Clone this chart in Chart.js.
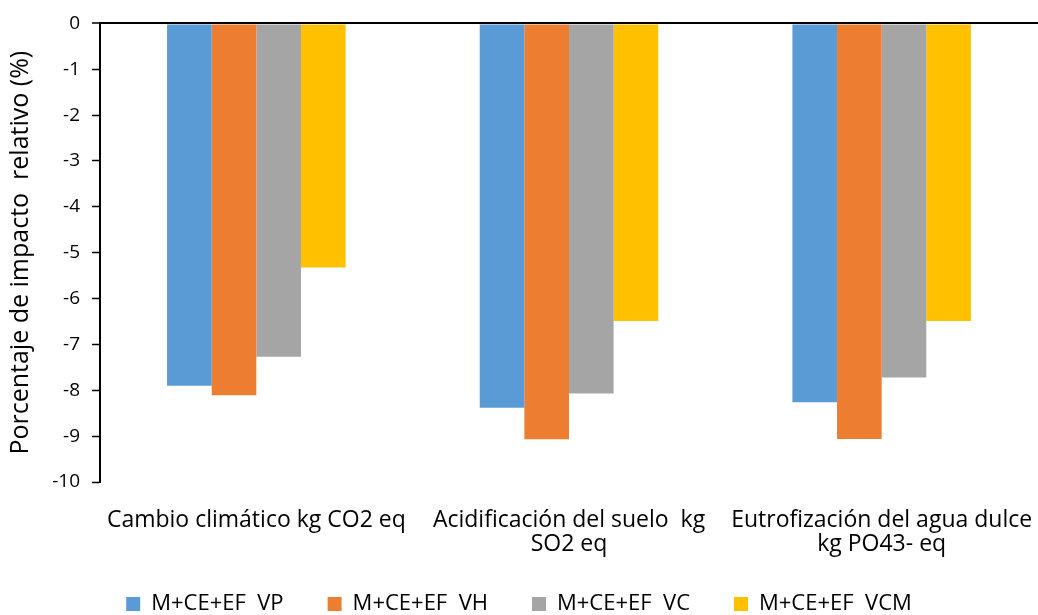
<!DOCTYPE html>
<html>
<head>
<meta charset="utf-8">
<script src="https://cdn.jsdelivr.net/npm/chart.js@4"></script>
<style>
  html, body { margin: 0; padding: 0; background: #ffffff; }
  #wrap { width: 1038px; height: 615px; position: relative; }
</style>
</head>
<body>
<div id="wrap"><canvas id="chart"></canvas></div>
<script>
// Impact categories (multi-line labels)
const categories = [
  ["Cambio climático kg CO2 eq"],
  ["Acidificación del suelo  kg", "SO2 eq"],
  ["Eutrofización del agua dulce", "kg PO43- eq"]
];

// Relative impact (%) per scenario
const seriesNames = ["M+CE+EF  VP", "M+CE+EF  VH", "M+CE+EF  VC", "M+CE+EF  VCM"];
const valuesVP  = [-7.90, -8.38, -8.26];
const valuesVH  = [-8.11, -9.07, -9.06];
const valuesVC  = [-7.27, -8.07, -7.72];
const valuesVCM = [-5.32, -6.49, -6.49];

const seriesColors = ["#5B9BD5", "#ED7D31", "#A5A5A5", "#FFC000"];

const yTitle = "Porcentaje de impacto  relativo (%)";
const FONT = "'Open Sans', 'Liberation Sans', sans-serif";

const allValues = [valuesVP, valuesVH, valuesVC, valuesVCM];

new Chart(document.getElementById("chart"), {
  type: "bar",
  data: {
    labels: categories,
    datasets: allValues.map((vals, i) => ({
      label: seriesNames[i],
      data: vals,
      backgroundColor: seriesColors[i],
      borderWidth: 0,
      barPercentage: 1.0,
      categoryPercentage: 0.571
    }))
  },
  options: {
    responsive: true,
    maintainAspectRatio: false,
    animation: false,
    layout: { padding: { top: 17, right: 0, bottom: -10, left: 0 } },
    plugins: {
      tooltip: { enabled: false },
      legend: {
        position: "bottom",
        labels: {
          boxWidth: 14,
          boxHeight: 14,
          padding: 4,
          color: "#000000",
          font: { family: FONT, size: 22 },
          generateLabels(chart) {
            const items = Chart.defaults.plugins.legend.labels.generateLabels(chart);
            items.forEach((it, i) => {
              it.lineWidth = 0;
              if (i < items.length - 1) it.text = it.text + "       ";
            });
            return items;
          }
        }
      }
    },
    scales: {
      x: {
        grid: { display: false },
        border: { display: false },
        ticks: {
          color: "#000000",
          padding: 18,
          maxRotation: 0,
          autoSkip: false,
          font: { family: FONT, size: 23, lineHeight: 1.05 }
        },
        afterFit(scale) {
          scale.height = 107;
          // labels may overhang the plot edges; keep the plot full width
          scale.paddingLeft = 0;
          scale.paddingRight = 0;
        }
      },
      y: {
        min: -10,
        max: 0,
        ticks: {
          stepSize: 1,
          color: "#000000",
          padding: 12,
          font: { family: FONT, size: 19 }
        },
        grid: {
          drawOnChartArea: true,
          color: (ctx) => (ctx.tick && ctx.tick.value === 0 ? "#000000" : "rgba(0,0,0,0)"),
          lineWidth: (ctx) => (ctx.tick && ctx.tick.value === 0 ? 2 : 1),
          tickColor: "#000000",
          tickLength: 8,
          tickWidth: 1.5
        },
        border: { display: true, color: "#000000", width: 2 },
        title: {
          display: true,
          text: yTitle,
          color: "#000000",
          padding: { top: 6, bottom: 0 },
          font: { family: FONT, size: 25, lineHeight: 1.2 }
        },
        afterFit(scale) { scale.width = 100; }
      }
    }
  }
});
</script>
</body>
</html>
